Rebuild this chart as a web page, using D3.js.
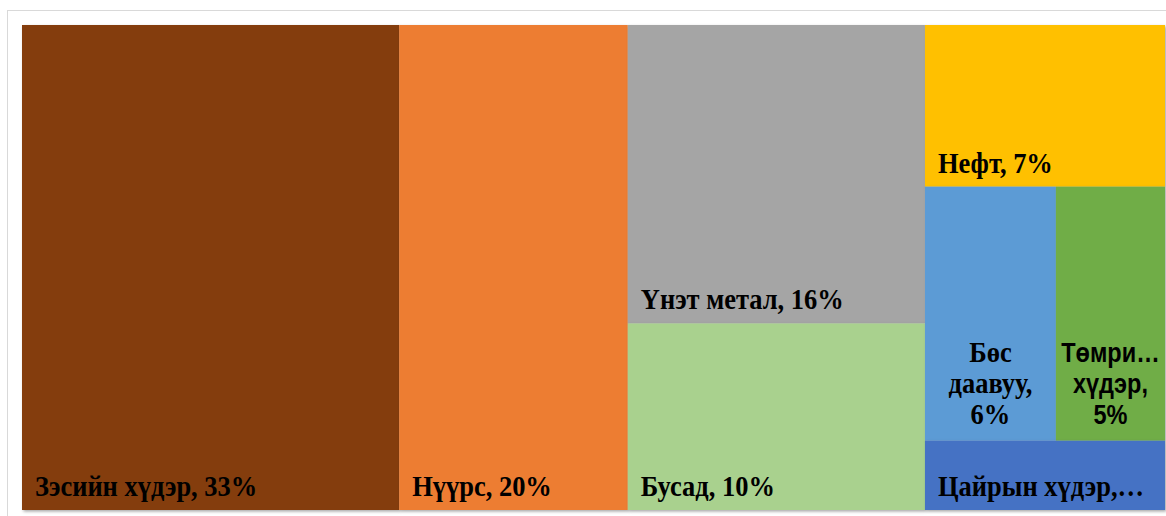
<!DOCTYPE html>
<html>
<head>
<meta charset="utf-8">
<script src="https://cdn.jsdelivr.net/npm/d3@7"></script>
<style>
  body { margin: 0; background: #fff; }
  svg { display: block; }
</style>
</head>
<body>
<div id="chart"></div>
<script>
// export structure, share in percent
var categories = ["Зэсийн хүдэр", "Нүүрс", "Үнэт метал", "Бусад", "Нефт", "Бөс даавуу", "Төмрийн хүдэр", "Цайрын хүдэр"];
var values = [33, 20, 16, 10, 7, 6, 5, 3];
// how excel nested the tiles (group per category)
var groups = ["a", "b", "c", "c", "d", "d1", "d1", "d"];
// text as it shows on the tiles (excel cut the long ones)
var labelLines = [
    ["Зэсийн хүдэр, 33%"],
    ["Нүүрс, 20%"],
    ["Үнэт метал, 16%"],
    ["Бусад, 10%"],
    ["Нефт, 7%"],
    ["Бөс", "даавуу,", "6%"],
    ["Төмри…", "хүдэр,", "5%"],
    ["Цайрын хүдэр,…"]
];
var colors = ["#843C0C", "#ED7D31", "#A5A5A5", "#A9D18E", "#FFC000", "#5B9BD5", "#70AD47", "#4472C4"];

var width = 1166, height = 516;
var plot = {x0: 22, y0: 25, x1: 1165, y1: 510};

var svg = d3.select("#chart").append("svg")
    .attr("width", width)
    .attr("height", height);

var defs = svg.append("defs");
var shadow = defs.append("filter")
    .attr("id", "shadow")
    .attr("x", "-5%").attr("y", "-5%")
    .attr("width", "110%").attr("height", "110%");
shadow.append("feDropShadow")
    .attr("dx", 1.5).attr("dy", 1.5)
    .attr("stdDeviation", 1.5)
    .attr("flood-color", "#000")
    .attr("flood-opacity", 0.35);

// chart frame
svg.append("rect")
    .attr("x", 7.5).attr("y", 10.5)
    .attr("width", 1180).attr("height", 520)
    .style("fill", "#fff")
    .style("stroke", "#D9D9D9");

// build nested data from the flat arrays
var rows = categories.map(function(c, i) {
    return {name: c, value: values[i], group: groups[i], idx: i};
});
var tree = {name: "root", children: []};
var seen = {};
rows.forEach(function(r) {
    var g = r.group;
    if (g.length === 1 && groups.filter(function(x){ return x === g; }).length === 1) {
        tree.children.push(r);
        return;
    }
    // top level group letter
    var top = g.charAt(0);
    if (!seen[top]) {
        seen[top] = {name: top, children: []};
        tree.children.push(seen[top]);
    }
    if (g.length > 1) {
        if (!seen[g]) {
            seen[g] = {name: g, children: []};
            seen[top].children.push(seen[g]);
        }
        seen[g].children.push(r);
    } else {
        seen[top].children.push(r);
    }
});

var root = d3.hierarchy(tree)
    .sum(function(d) { return d.children ? 0 : d.value; });

d3.treemap()
    .tile(d3.treemapSliceDice)
    .size([plot.x1 - plot.x0, plot.y1 - plot.y0])
    .round(false)(root);

var leaves = root.leaves();

var g = svg.append("g")
    .attr("transform", "translate(" + plot.x0 + "," + plot.y0 + ")");

var cell = g.selectAll("g.cell")
    .data(leaves)
    .enter().append("g")
    .attr("class", "cell");

cell.append("rect")
    .attr("x", function(d) { return d.x0; })
    .attr("y", function(d) { return d.y0; })
    .attr("width", function(d) { return d.x1 - d.x0; })
    .attr("height", function(d) { return d.y1 - d.y0; })
    .style("fill", function(d) { return colors[d.data.idx]; })
    .attr("filter", "url(#shadow)");

var serif = "'Liberation Serif', 'Times New Roman', serif";
var sans = "'Liberation Sans', Arial, sans-serif";

// the picture's text is a bit stretched up
function place(x, y) {
    return "translate(" + x + "," + y + ") scale(0.98,1.12)";
}

cell.each(function(d) {
    var lines = labelLines[d.data.idx];
    var sel = d3.select(this);
    if (lines.length === 1) {
        sel.append("text")
            .attr("transform", place(d.x0 + 13, d.y1 - 14))
            .style("font-family", serif)
            .style("font-weight", "bold")
            .style("font-size", "27px")
            .style("fill", "#000")
            .text(lines[0]);
    } else {
        var isSans = d.data.idx === 6;
        var cx = (d.x0 + d.x1) / 2;
        lines.forEach(function(l, k) {
            sel.append("text")
                .attr("transform", place(cx, d.y1 - 17 - (lines.length - 1 - k) * 31))
                .attr("text-anchor", "middle")
                .style("font-family", isSans ? sans : serif)
                .style("font-weight", "bold")
                .style("font-size", isSans ? "24px" : "27px")
                .style("fill", "#000")
                .text(l);
        });
    }
});
</script>
</body>
</html>
